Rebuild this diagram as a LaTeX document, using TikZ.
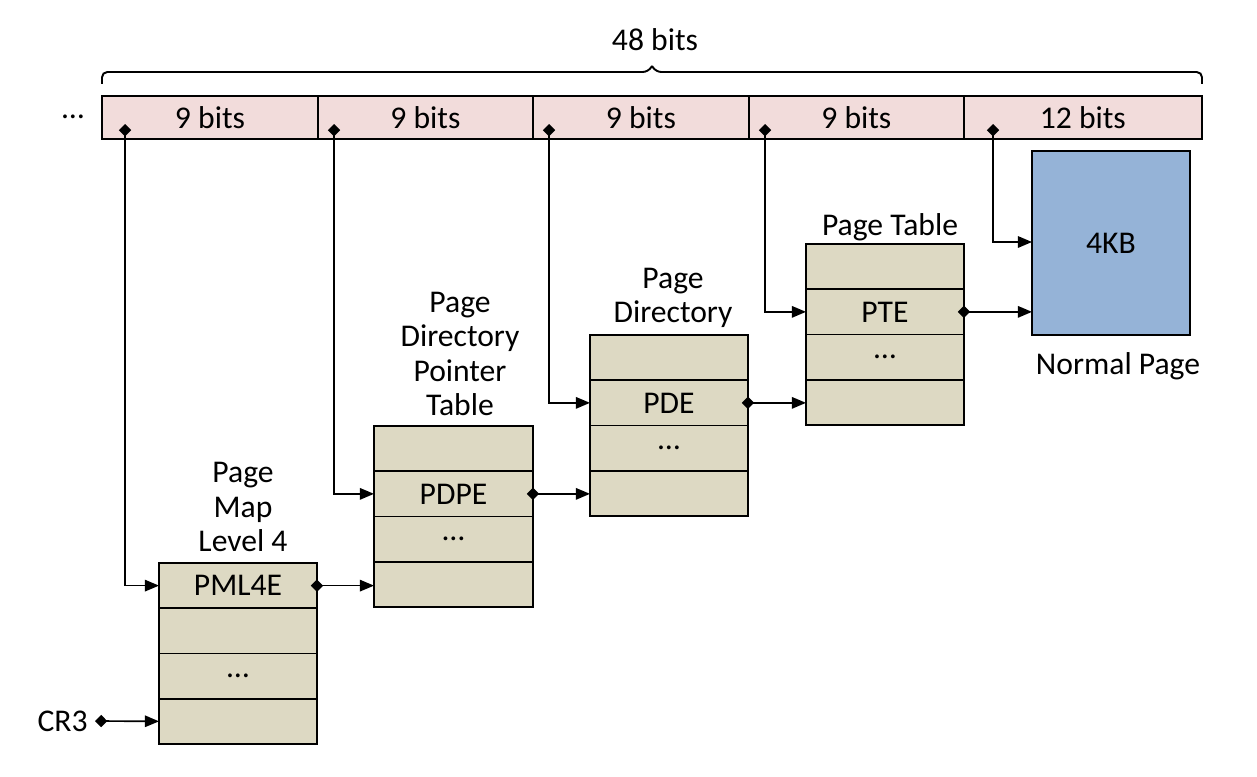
\documentclass[tikz,border=0pt]{standalone}
\usepackage{fontspec}
\setmainfont{Carlito}
\usetikzlibrary{positioning}
\usetikzlibrary{arrows.meta}
\usepackage{xcolor}

\definecolor{bitpink}{RGB}{242,220,219}
\definecolor{tabletan}{RGB}{221,217,195}
\definecolor{pageblue}{RGB}{149,179,215}

\begin{document}
\begin{tikzpicture}[x=0.02cm, y=-0.02cm,
  every node/.style={font=\fontsize{18}{19.5}\selectfont},
  bitcell/.style={draw, fill=bitpink, line width=1.1pt, inner sep=0, outer sep=0, minimum height=0.86cm},
  entry/.style={draw, fill=tabletan, line width=1.1pt, inner sep=0, outer sep=0, minimum width=3.16cm, minimum height=0.905cm},
  ptr/.style={line width=0.95pt, {Diamond[length=7pt,width=7pt]}-{Triangle[length=8pt,width=6.5pt]}},
  title/.style={align=center, inner sep=0}]

\useasboundingbox (0,0) rectangle (1257,777);

% address bits
\node[bitcell, minimum width=4.32cm, anchor=north west] (bit1) at (102,96) {9 bits};
\node[bitcell, minimum width=4.30cm, right=0pt of bit1] (bit2) {9 bits};
\node[bitcell, minimum width=4.32cm, right=0pt of bit2] (bit3) {9 bits};
\node[bitcell, minimum width=4.30cm, right=0pt of bit3] (bit4) {9 bits};
\node[bitcell, minimum width=4.76cm, right=0pt of bit4] (bit5) {12 bits};

\node (more) at (73,117) {\dots};

% brace
\draw[line width=1.1pt, rounded corners=3pt] (102,84) |- (648,72) -- (652,66);
\draw[line width=1.1pt, rounded corners=3pt] (652,66) -- (656,72) -| (1202,84);
\node (width) at (655,40) {48 bits};

% PML4
\node[entry, anchor=north west] (pml4a) at (159,563) {PML4E};
\node[entry, below=0pt of pml4a] (pml4b) {};
\node[entry, below=0pt of pml4b] (pml4c) {\dots};
\node[entry, below=0pt of pml4c] (pml4d) {};
\node[title] (pml4title) at (243,507) {Page\\Map\\Level 4};

% PDPT
\node[entry, anchor=north west, minimum width=3.18cm] (pdpta) at (374,426) {};
\node[entry, below=0pt of pdpta, minimum width=3.18cm] (pdptb) {PDPE};
\node[entry, below=0pt of pdptb, minimum width=3.18cm] (pdptc) {\dots};
\node[entry, below=0pt of pdptc, minimum width=3.18cm] (pdptd) {};
\node[title] (pdpttitle) at (460,354) {Page\\Directory\\Pointer\\Table};

% PD
\node[entry, anchor=north west] (pda) at (590,335) {};
\node[entry, below=0pt of pda] (pdb) {PDE};
\node[entry, below=0pt of pdb] (pdc) {\dots};
\node[entry, below=0pt of pdc] (pdd) {};
\node[title] (pdtitle) at (673,298) {Page\\Directory};

% PT
\node[entry, anchor=north west] (pta) at (806,244) {};
\node[entry, below=0pt of pta] (ptb) {PTE};
\node[entry, below=0pt of ptb] (ptc) {\dots};
\node[entry, below=0pt of ptc] (ptd) {};
\node[title] (pttitle) at (890,227) {Page Table};

% page
\node[draw, fill=pageblue, line width=1.1pt, inner sep=0, outer sep=0, minimum width=3.16cm, minimum height=3.68cm, anchor=north west] (page) at (1032,151) {4KB};
\node[title] (pagetitle) at (1118,366) {Normal Page};

% CR3
\node[anchor=east, inner sep=0] (cr3) at (88,721) {CR3};

\coordinate (s1) at (125,124);
\coordinate (s2) at (334,124);
\coordinate (s3) at (549,124);
\coordinate (s4) at (765,124);
\coordinate (s5) at (993,124);
\coordinate (s6) at (95,721);

% pointers
\draw[ptr] (s1) |- (pml4a.west);
\draw[ptr] (s2) |- (pdptb.west);
\draw[ptr] (s3) |- (pdb.west);
\draw[ptr] (s4) |- (ptb.west);
\draw[ptr] (s5) |- (page.west |- 0,242);
\draw[ptr] (s6) -- (pml4d.west);

\draw[ptr] ([xshift=-3.5pt]pml4a.east) -- (pdptd.west |- pml4a.east);
\draw[ptr] ([xshift=-3.5pt]pdptb.east) -- (pdb.west |- pdptb.east);
\draw[ptr] ([xshift=-3.5pt]pdb.east) -- (ptb.west |- pdb.east);
\draw[ptr] ([xshift=-3.5pt]ptb.east) -- (page.west |- ptb.east);

\end{tikzpicture}
\end{document}
